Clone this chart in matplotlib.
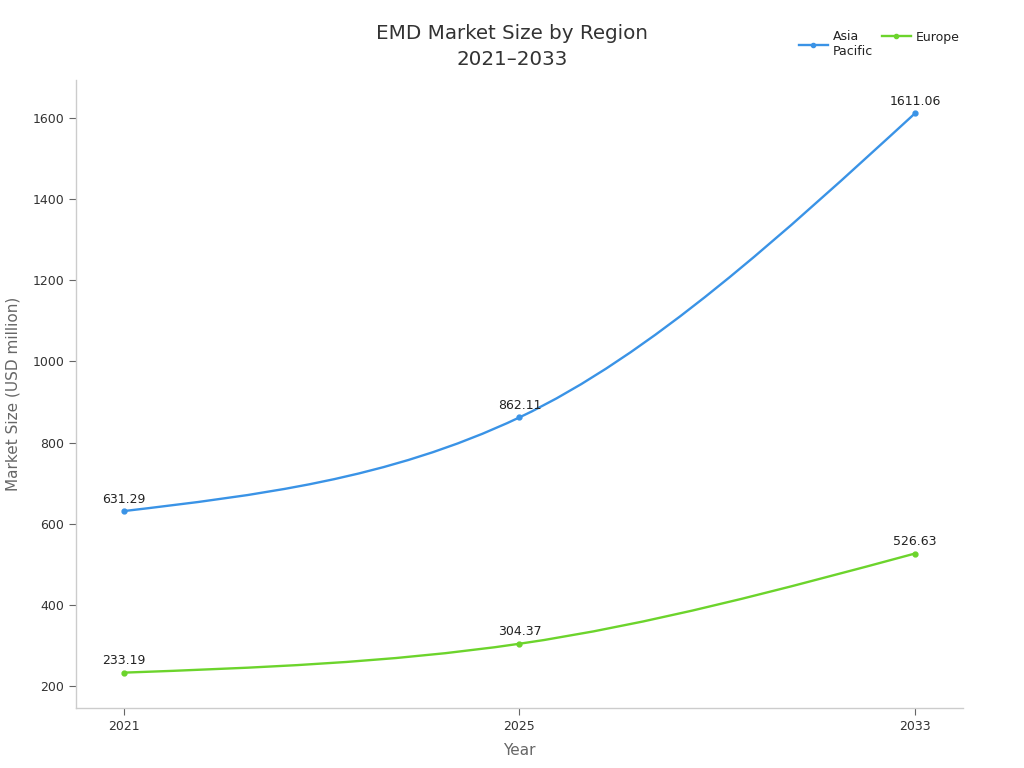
import matplotlib
matplotlib.use("Agg")
import matplotlib.pyplot as plt
import numpy as np
from matplotlib.path import Path
from matplotlib.patches import PathPatch
from matplotlib.lines import Line2D

years = ["2021", "2025", "2033"]
asia_pacific = [631.29, 862.11, 1611.06]
europe = [233.19, 304.37, 526.63]
series_names = ["Asia\nPacific", "Europe"]
colors = ["#3a93e6", "#6cd42c"]

plt.rcParams["font.family"] = ["DejaVu Sans"]

W, H = 1024, 768
fig = plt.figure(figsize=(W / 100, H / 100), dpi=100)
ax = fig.add_axes([0.0742, 0.078, 0.8662, 0.818])


def monotone_path(xs, ys):
    xs = np.asarray(xs, float)
    ys = np.asarray(ys, float)
    n = len(xs)
    h = np.diff(xs)
    s = np.diff(ys) / h
    t = np.zeros(n)
    for i in range(1, n - 1):
        h0, h1 = h[i - 1], h[i]
        s0, s1 = s[i - 1], s[i]
        p = (s0 * h1 + s1 * h0) / (h0 + h1)
        t[i] = (np.sign(s0) + np.sign(s1)) * min(abs(s0), abs(s1), 0.5 * abs(p))
    t[0] = (3 * s[0] - t[1]) / 2
    t[-1] = (3 * s[-1] - t[-2]) / 2
    verts = [(xs[0], ys[0])]
    codes = [Path.MOVETO]
    for i in range(n - 1):
        dx = (xs[i + 1] - xs[i]) / 3
        verts += [(xs[i] + dx, ys[i] + dx * t[i]),
                  (xs[i + 1] - dx, ys[i + 1] - dx * t[i + 1]),
                  (xs[i + 1], ys[i + 1])]
        codes += [Path.CURVE4] * 3
    return Path(verts, codes)


x = np.arange(len(years))
handles = []
for vals, name, col in zip([asia_pacific, europe], series_names, colors):
    patch = PathPatch(monotone_path(x, vals), fill=False, edgecolor=col,
                      lw=1.7, transform=ax.transData, zorder=3)
    ax.add_patch(patch)
    ax.plot(x, vals, "o", color=col, ms=3.5, zorder=4)
    for xi, v in zip(x, vals):
        ax.annotate(f"{v:.2f}", (xi, v), xytext=(0, 4), textcoords="offset points",
                    ha="center", va="bottom", fontsize=9, color="#222222")
    handles.append(Line2D([0], [0], color=col, lw=1.7, marker="o", ms=3, label=name))

ax.set_xlim(-0.1215, 2.1215)
ax.set_ylim(145.8, 1693.7)
ax.set_xticks(x)
ax.set_xticklabels(years)
ax.set_yticks([200, 400, 600, 800, 1000, 1200, 1400, 1600])
ax.tick_params(axis="both", labelsize=9, labelcolor="#333333", color="#666666",
               length=5, width=0.8)

for side in ["top", "right"]:
    ax.spines[side].set_visible(False)
for side in ["left", "bottom"]:
    ax.spines[side].set_color("#cccccc")
    ax.spines[side].set_linewidth(1.0)

ax.set_xlabel("Year", fontsize=11, color="#666666")
ax.set_ylabel("Market Size (USD million)", fontsize=11, color="#666666")
ax.yaxis.set_label_coords(-0.071, 0.5)
ax.xaxis.set_label_coords(0.5, -0.068)
ax.xaxis.label.set_va("center")
ax.yaxis.label.set_va("center")

fig.text(0.5, 0.957, "EMD Market Size by Region", ha="center", va="center",
         fontsize=14.3, color="#333333")
fig.text(0.5, 0.923, "2021\u20132033", ha="center", va="center",
         fontsize=14.3, color="#333333")

legend_pos = [(799, 44), (882, 37)]
for hnd, (px, py) in zip(handles, legend_pos):
    lg = fig.legend(handles=[hnd], loc="center left",
                    bbox_to_anchor=(px / W, 1 - py / H),
                    frameon=False, fontsize=9, handlelength=2.3,
                    handletextpad=0.4, borderpad=0, borderaxespad=0,
                    labelcolor="#222222")

fig.savefig("out.png", dpi=100, facecolor="white")
